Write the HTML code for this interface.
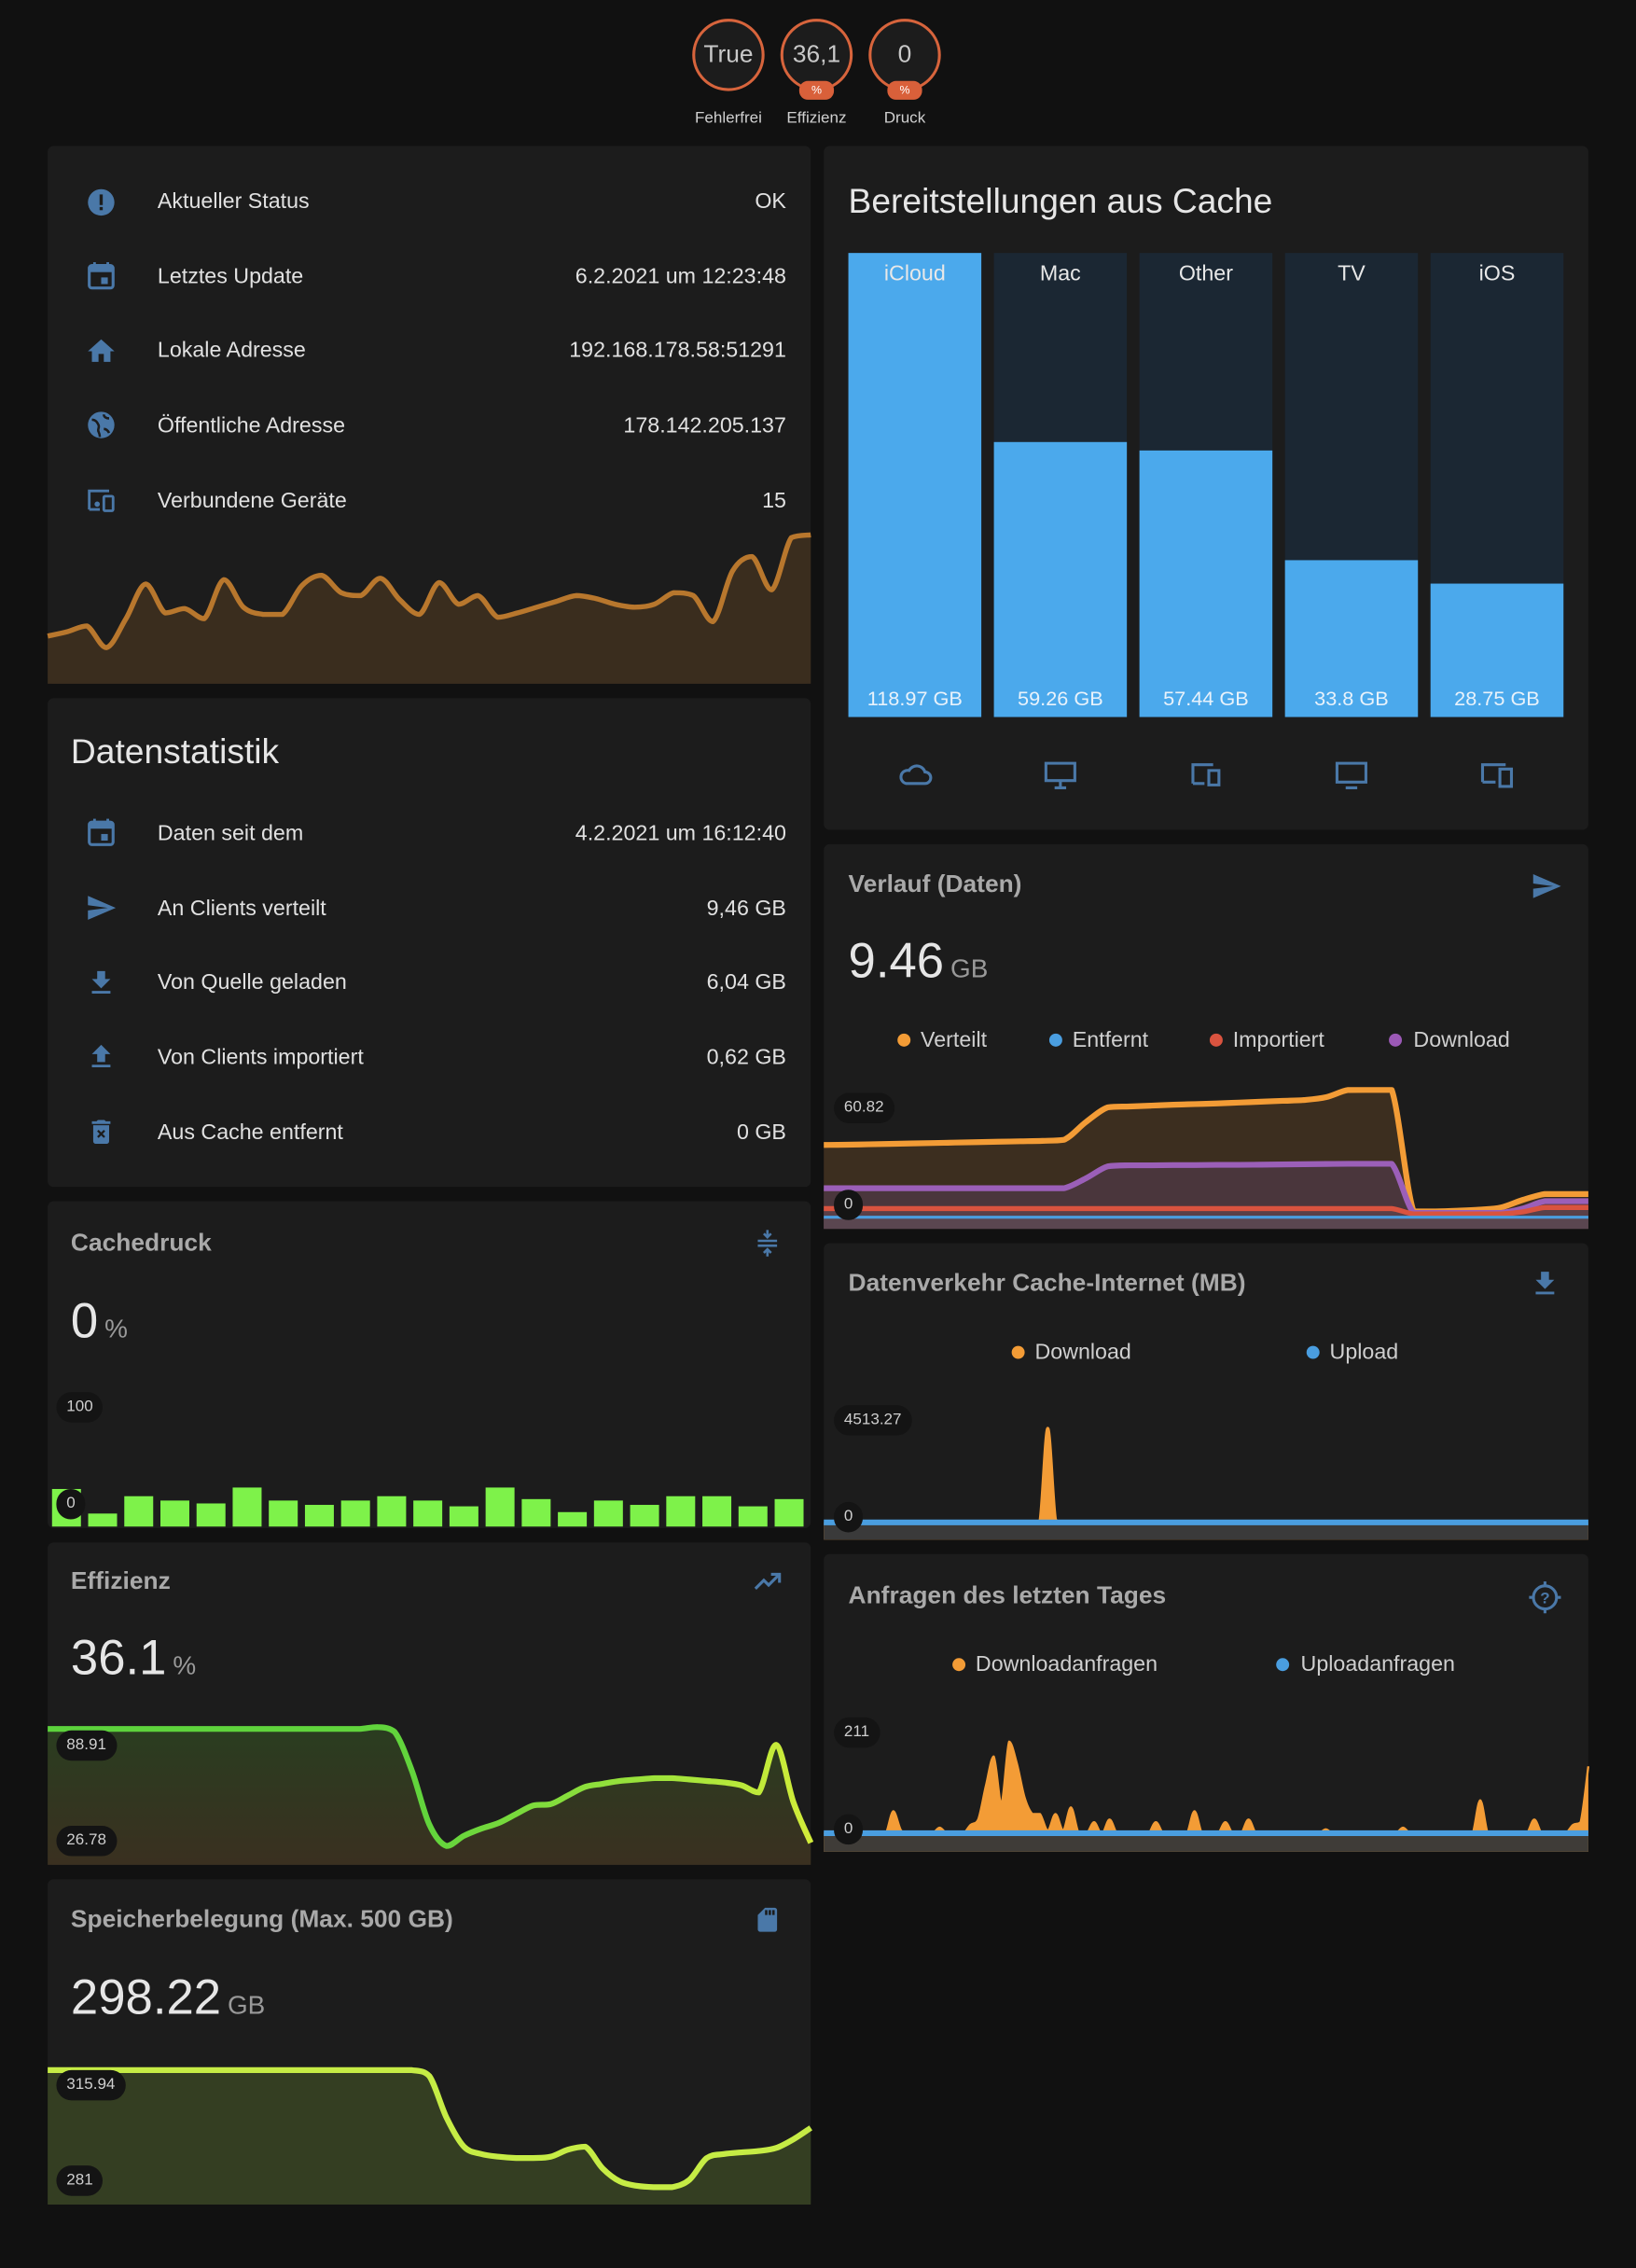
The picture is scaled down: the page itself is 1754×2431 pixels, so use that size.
<!DOCTYPE html>
<html><head><meta charset="utf-8">
<style>
html,body{margin:0;padding:0;background:#111111;width:1754px;height:2430px;overflow:hidden}
#wrap{position:absolute;left:0;top:0;width:1132px;height:1569px;transform:scale(1.5495);transform-origin:0 0;font-family:"Liberation Sans",sans-serif;color:#e1e1e1}
.card{position:absolute;background:#1c1c1c;border-radius:4px;overflow:hidden}
.t{position:absolute;white-space:nowrap;line-height:1}
.row{font-size:15px;color:#e1e1e1}
.val{font-size:15px;color:#e1e1e1;text-align:right}
.title{font-size:17px;color:#a9a9a9;font-weight:bold}
.big{font-size:24px;color:#e6e6e6}
.num{font-size:34px;color:#e6e6e6}
.unit{font-size:18px;color:#999}
.pill{position:absolute;background:#141414;border-radius:11px;font-size:11px;color:#cfcfcf;padding:5px 7px;line-height:1}
.leg{font-size:15px;color:#cfcfcf}
.dot{position:absolute;width:9px;height:9px;border-radius:50%}
.badge{position:absolute;width:46px;height:46px;border:2px solid #d7643c;border-radius:50%;background:#1c1c1c;color:#c8c8c8;font-size:17px;text-align:center;line-height:46px}
.bl{position:absolute;width:24px;height:13px;background:#d9603a;border-radius:6px;color:#fff;font-size:8px;text-align:center;line-height:13px}
.bt{position:absolute;font-size:11px;color:#d0d0d0;text-align:center;width:70px}
svg.ic{position:absolute}
</style></head><body>
<div id="wrap">

<div class="badge" style="left:479px;top:13px">True</div>
<div class="badge" style="left:540px;top:13px">36,1</div>
<div class="bl" style="left:553px;top:56px">%</div>
<div class="badge" style="left:601px;top:13px">0</div>
<div class="bl" style="left:614px;top:56px">%</div>
<div class="bt" style="left:469px;top:76px">Fehlerfrei</div>
<div class="bt" style="left:530px;top:76px">Effizienz</div>
<div class="bt" style="left:591px;top:76px">Druck</div>

<div class="card" style="left:33px;top:101px;width:528px;height:372px"></div>
<div class="card" style="left:33px;top:483px;width:528px;height:338px"></div>
<div class="card" style="left:33px;top:831px;width:528px;height:226px"></div>
<div class="card" style="left:33px;top:1067px;width:528px;height:223px"></div>
<div class="card" style="left:33px;top:1300px;width:528px;height:225px"></div>
<div class="card" style="left:570px;top:101px;width:529px;height:473px"></div>
<div class="card" style="left:570px;top:584px;width:529px;height:266px"></div>
<div class="card" style="left:570px;top:860px;width:529px;height:205px"></div>
<div class="card" style="left:570px;top:1075px;width:529px;height:206px"></div>

<svg id="charts" width="1132" height="1569" style="position:absolute;left:0;top:0">
<defs>
<linearGradient id="effG" x1="33" x2="561" y1="0" y2="0" gradientUnits="userSpaceOnUse"><stop offset="0" stop-color="#5cd23c"/><stop offset="0.5" stop-color="#62d43c"/><stop offset="0.85" stop-color="#a9e63b"/><stop offset="1" stop-color="#d2ec3a"/></linearGradient>
<linearGradient id="effF" x1="0" x2="0" y1="1196" y2="1290" gradientUnits="userSpaceOnUse"><stop offset="0" stop-color="#2a3d20"/><stop offset="1" stop-color="#3a3020"/></linearGradient>
</defs>
</svg>

<svg class="ic" style="left:59px;top:129px" width="22" height="22" viewBox="0 0 24 24"><circle cx="12" cy="12" r="10" fill="#4a78a8"/><rect x="10.8" y="6" width="2.4" height="8" fill="#1c1c1c"/><rect x="10.8" y="15.5" width="2.4" height="2.4" fill="#1c1c1c"/></svg>
<div class="t row" style="left:109px;top:132px">Aktueller Status</div>
<div class="t val" style="right:588px;top:132px">OK</div>
<svg class="ic" style="left:59px;top:180px" width="22" height="22" viewBox="0 0 24 24"><rect x="3" y="4" width="18" height="17" rx="2" fill="none" stroke="#4a78a8" stroke-width="2.2"/><rect x="3" y="4" width="18" height="5" fill="#4a78a8"/><rect x="6" y="1.5" width="2" height="4" fill="#4a78a8"/><rect x="16" y="1.5" width="2" height="4" fill="#4a78a8"/><rect x="12" y="13" width="5" height="5" fill="#4a78a8"/></svg>
<div class="t row" style="left:109px;top:184px">Letztes Update</div>
<div class="t val" style="right:588px;top:184px">6.2.2021 um 12:23:48</div>
<svg class="ic" style="left:59px;top:232px" width="22" height="22" viewBox="0 0 24 24"><path d="M10 20v-6h4v6h5v-8h3L12 3 2 12h3v8z" fill="#4a78a8"/></svg>
<div class="t row" style="left:109px;top:235px">Lokale Adresse</div>
<div class="t val" style="right:588px;top:235px">192.168.178.58:51291</div>
<svg class="ic" style="left:59px;top:283px" width="22" height="22" viewBox="0 0 24 24"><circle cx="12" cy="12" r="10" fill="#4a78a8"/><path d="M5 8c3 0 4 2 5 4s-1 3 0 5 1 3 1 4M14 4c0 2 2 3 4 3M14 15c2 0 3 1 4 3" stroke="#1c1c1c" stroke-width="1.8" fill="none"/></svg>
<div class="t row" style="left:109px;top:287px">Öffentliche Adresse</div>
<div class="t val" style="right:588px;top:287px">178.142.205.137</div>
<svg class="ic" style="left:59px;top:335px" width="22" height="22" viewBox="0 0 24 24"><path d="M3 19V5h15" stroke="#4a78a8" stroke-width="2" fill="none"/><path d="M3 19h8" stroke="#4a78a8" stroke-width="2"/><circle cx="9" cy="15" r="2" fill="#4a78a8"/><rect x="14" y="9" width="7" height="11" rx="1" fill="none" stroke="#4a78a8" stroke-width="2"/></svg>
<div class="t row" style="left:109px;top:339px">Verbundene Geräte</div>
<div class="t val" style="right:588px;top:339px">15</div>

<div class="t big" style="left:49px;top:509px">Datenstatistik</div>
<svg class="ic" style="left:59px;top:565px" width="22" height="22" viewBox="0 0 24 24"><rect x="3" y="4" width="18" height="17" rx="2" fill="none" stroke="#4a78a8" stroke-width="2.2"/><rect x="3" y="4" width="18" height="5" fill="#4a78a8"/><rect x="6" y="1.5" width="2" height="4" fill="#4a78a8"/><rect x="16" y="1.5" width="2" height="4" fill="#4a78a8"/><rect x="12" y="13" width="5" height="5" fill="#4a78a8"/></svg>
<div class="t row" style="left:109px;top:569px">Daten seit dem</div>
<div class="t val" style="right:588px;top:569px">4.2.2021 um 16:12:40</div>
<svg class="ic" style="left:57px;top:617px" width="26" height="22" viewBox="0 0 24 24"><path d="M2 21l21-9L2 3v7l15 2-15 2z" fill="#4a78a8"/></svg>
<div class="t row" style="left:109px;top:621px">An Clients verteilt</div>
<div class="t val" style="right:588px;top:621px">9,46 GB</div>
<svg class="ic" style="left:59px;top:669px" width="22" height="22" viewBox="0 0 24 24"><path d="M19 9h-4V3H9v6H5l7 7zM5 18v2h14v-2z" fill="#4a78a8"/></svg>
<div class="t row" style="left:109px;top:672px">Von Quelle geladen</div>
<div class="t val" style="right:588px;top:672px">6,04 GB</div>
<svg class="ic" style="left:59px;top:720px" width="22" height="22" viewBox="0 0 24 24"><path d="M9 16h6v-6h4l-7-7-7 7h4zM5 18h14v2H5z" fill="#4a78a8"/></svg>
<div class="t row" style="left:109px;top:724px">Von Clients importiert</div>
<div class="t val" style="right:588px;top:724px">0,62 GB</div>
<svg class="ic" style="left:59px;top:772px" width="22" height="22" viewBox="0 0 24 24"><path d="M6 19a2 2 0 002 2h8a2 2 0 002-2V7H6zM19 4h-3.5l-1-1h-5l-1 1H5v2h14z" fill="#4a78a8"/><path d="M9.5 11l5 5M14.5 11l-5 5" stroke="#1c1c1c" stroke-width="1.6"/></svg>
<div class="t row" style="left:109px;top:776px">Aus Cache entfernt</div>
<div class="t val" style="right:588px;top:776px">0 GB</div>

<div class="t title" style="left:49px;top:851px">Cachedruck</div>
<svg class="ic" style="left:521px;top:849px" width="20" height="22" viewBox="0 0 24 24"><path d="M12 1v5M9 4l3 3 3-3M4 10h16M4 14h16M12 23v-5M9 20l3-3 3 3" stroke="#4a78a8" stroke-width="2" fill="none"/></svg>
<div class="t" style="left:49px;top:897px"><span class="num">0</span> <span class="unit">%</span></div>

<div class="t title" style="left:49px;top:1085px">Effizienz</div>
<svg class="ic" style="left:519px;top:1084px" width="24" height="20" viewBox="0 0 24 24"><path d="M2 18l7-7 4 4 8-8M15 6h7v7" stroke="#4a78a8" stroke-width="2.4" fill="none"/></svg>
<div class="t" style="left:49px;top:1130px"><span class="num">36.1</span> <span class="unit">%</span></div>

<div class="t title" style="left:49px;top:1319px">Speicherbelegung (Max. 500 GB)</div>
<svg class="ic" style="left:521px;top:1317px" width="20" height="22" viewBox="0 0 24 24"><path d="M18 2h-8L4 8v12a2 2 0 002 2h12a2 2 0 002-2V4a2 2 0 00-2-2zM12 8h-2V4h2zm3 0h-2V4h2zm3 0h-2V4h2z" fill="#4a78a8"/></svg>
<div class="t" style="left:49px;top:1365px"><span class="num">298.22</span> <span class="unit">GB</span></div>

<div class="t big" style="left:587px;top:128px">Bereitstellungen aus Cache</div>

<div class="t title" style="left:587px;top:603px">Verlauf (Daten)</div>
<svg class="ic" style="left:1057px;top:602px" width="26" height="22" viewBox="0 0 24 24"><path d="M2 21l21-9L2 3v7l15 2-15 2z" fill="#4a78a8"/></svg>
<div class="t" style="left:587px;top:648px"><span class="num">9.46</span> <span class="unit">GB</span></div>
<div class="dot" style="left:621px;top:715px;background:#f39c36"></div><div class="t leg" style="left:637px;top:712px">Verteilt</div>
<div class="dot" style="left:726px;top:715px;background:#4a9ee0"></div><div class="t leg" style="left:742px;top:712px">Entfernt</div>
<div class="dot" style="left:837px;top:715px;background:#d9533f"></div><div class="t leg" style="left:853px;top:712px">Importiert</div>
<div class="dot" style="left:961px;top:715px;background:#9b59b6"></div><div class="t leg" style="left:978px;top:712px">Download</div>

<div class="t title" style="left:587px;top:879px">Datenverkehr Cache-Internet (MB)</div>
<svg class="ic" style="left:1058px;top:877px" width="22" height="22" viewBox="0 0 24 24"><path d="M19 9h-4V3H9v6H5l7 7zM5 18v2h14v-2z" fill="#4a78a8"/></svg>
<div class="dot" style="left:700px;top:931px;background:#f39c36"></div><div class="t leg" style="left:716px;top:928px">Download</div>
<div class="dot" style="left:904px;top:931px;background:#4a9ee0"></div><div class="t leg" style="left:920px;top:928px">Upload</div>

<div class="t title" style="left:587px;top:1095px">Anfragen des letzten Tages</div>
<svg class="ic" style="left:1057px;top:1093px" width="24" height="24" viewBox="0 0 24 24"><circle cx="12" cy="12" r="8" fill="none" stroke="#4a78a8" stroke-width="2"/><path d="M12 1v3M12 20v3M1 12h3M20 12h3" stroke="#4a78a8" stroke-width="2"/><text x="12" y="16" font-size="11" text-anchor="middle" fill="#4a78a8" font-family="Liberation Sans" font-weight="bold">?</text></svg>
<div class="dot" style="left:659px;top:1147px;background:#f39c36"></div><div class="t leg" style="left:675px;top:1144px">Downloadanfragen</div>
<div class="dot" style="left:883px;top:1147px;background:#4a9ee0"></div><div class="t leg" style="left:900px;top:1144px">Uploadanfragen</div>

<div class="pill" style="left:39px;top:963px">100</div>
<div class="pill" style="left:39px;top:1030px">0</div>
<div class="pill" style="left:39px;top:1197px">88.91</div>
<div class="pill" style="left:39px;top:1263px">26.78</div>
<div class="pill" style="left:39px;top:1432px">315.94</div>
<div class="pill" style="left:39px;top:1498px">281</div>
<div class="pill" style="left:577px;top:756px">60.82</div>
<div class="pill" style="left:577px;top:823px">0</div>
<div class="pill" style="left:577px;top:972px">4513.27</div>
<div class="pill" style="left:577px;top:1039px">0</div>
<div class="pill" style="left:577px;top:1188px">211</div>
<div class="pill" style="left:577px;top:1255px">0</div>
</div>

<script>
const statusSpark = [33,36,40,25,45,69,49,52,45,72,53,48,48,68,75,63,61,73,58,48,70,55,61,46,49,53,57,61,59,55,53,55,63,61,43,78,88,65,101,103];
const cachePressure = [26,9,21,18,16,27,18,15,18,21,18,14,27,19,10,18,15,21,21,14,19];
const efficiency = [88.91,88.91,88.91,88.91,88.91,88.91,88.91,88.91,88.91,88.91,88.91,88.91,88.91,88.91,88.91,88.91,88.91,88.91,88.91,89.9,87.4,66.7,38.3,26.8,32.2,36.0,39.0,43.7,48.3,49.0,53.6,58.2,59.8,61.3,62.1,62.8,62.8,62.1,61.3,60.5,59.0,55.2,80.5,50.0,28.5];
const storage = [315.94,315.94,315.94,315.94,315.94,315.94,315.94,315.94,315.94,315.94,315.94,315.94,315.94,315.94,315.94,315.94,315.94,315.94,315.94,315.94,315.94,315.94,314.2,301.7,293.1,290.9,290.1,289.7,289.7,290.1,292.2,293.1,286.6,282.7,281.4,281.0,281.0,283.2,289.7,290.9,291.4,291.8,292.7,295.3,298.7];
const bsCategories = ["iCloud","Mac","Other","TV","iOS"];
const bsValues = [118.97,59.26,57.44,33.8,28.75];
const bsLabels = ["118.97 GB","59.26 GB","57.44 GB","33.8 GB","28.75 GB"];
const verteilt = [35.4,35.5,35.7,35.9,36.1,36.3,36.5,36.7,36.9,37.1,37.3,37.8,46,52.8,53.2,53.6,54,54.3,54.6,55,55.4,55.8,56.2,57.5,60.8,60.82,60.82,4.7,4.7,5,5.5,6.5,10,12.7,12.7,12.7];
const dlVerlauf = [15.4,15.4,15.4,15.4,15.4,15.4,15.4,15.4,15.4,15.4,15.4,15.4,20,25.5,26,26,26.1,26.1,26.2,26.2,26.3,26.4,26.5,26.6,26.7,26.7,26.7,4,4,4,4,4,6,9.4,9.4,9.4];
const importiert = [6,6,6,6,6,6,6,6,6,6,6,6,6,6,6,6,6,6,6,6,6,6,6,6,6,6,6,3.5,3.5,3.5,3.5,3.5,4.5,6.5,6.5,6.5];
const entfernt = [2,2,2,2,2,2,2,2,2,2,2,2,2,2,2,2,2,2,2,2,2,2,2,2,2,2,2,2,2,2,2,2,2,2,2,2];
const trafficDownload = [0,0,0,0,0,0,0,0,0,0,0,0,0,0,0,0,0,0,0,0,0,0,0,0,0,0,0,0,150,4513.27,200,0,0,0,0,0,0,0,0,0,0,0,0,0,0,0,0,0,0,0,0,0,0,0,0,0,0,0,0,0,0,0,0,0,0,0,0,0,0,0,0,0,0,0,0,0,0,0,0,0,0,0,0,0,0,0,0,0,0,0,0,0,0,0,0,0,0,0,0,0];
const trafficUpload = new Array(100).fill(60);
const reqDownload = [5,3,3,3,3,3,3,3,3,45,10,5,3,3,3,15,3,3,3,20,30,92,145,60,172,132,70,40,40,10,40,10,52,5,3,25,3,30,3,3,3,3,3,25,3,3,3,3,45,3,3,3,25,3,3,30,3,3,3,3,3,3,3,3,3,12,3,3,3,3,3,3,3,3,3,15,3,3,3,3,3,3,3,3,3,65,3,3,3,3,3,3,30,3,3,3,3,20,25,127];
const reqUpload = new Array(100).fill(5);

const NS="http://www.w3.org/2000/svg";
const svg=document.getElementById('charts');
function el(tag,attrs){const e=document.createElementNS(NS,tag);for(const k in attrs)e.setAttribute(k,attrs[k]);svg.appendChild(e);return e;}
function clamp(v,a,b){const lo=Math.min(a,b),hi=Math.max(a,b);return Math.max(lo,Math.min(hi,v));}
function smooth(p){let d="M"+p[0][0]+","+p[0][1];for(let i=0;i<p.length-1;i++){const p0=p[i-1]||p[i],p1=p[i],p2=p[i+1],p3=p[i+2]||p2;const c1x=p1[0]+(p2[0]-p0[0])/6,c2x=p2[0]-(p3[0]-p1[0])/6;const c1y=clamp(p1[1]+(p2[1]-p0[1])/6,p1[1],p2[1]),c2y=clamp(p2[1]-(p3[1]-p1[1])/6,p1[1],p2[1]);d+=`C${c1x},${c1y},${c2x},${c2y},${p2[0]},${p2[1]}`;}return d;}
function series(vals,x0,x1,yf){return vals.map((v,i)=>[x0+(x1-x0)*i/(vals.length-1),yf(v)]);}
function drawArea(pts,base,fill,stroke,w,name){
  const d=smooth(pts);
  const a=el('path',{d:d+`L${pts[pts.length-1][0]},${base}L${pts[0][0]},${base}Z`,fill:fill});
  
  
  const l=el('path',{d:d,fill:'none',stroke:stroke,'stroke-width':w,'stroke-linejoin':'round','stroke-linecap':'butt'});
  
  
}

const ySpark=v=>473-v;
drawArea(series(statusSpark,33,561,ySpark),473,'#3a2d1e','#b8772d',3.5,'status-sparkline');

const yCache=v=>1056-v;
cachePressure.forEach((v,i)=>{const x=36+i*25;const r=el('rect',{x:x,y:yCache(v),width:20,height:1056-yCache(v),fill:'#7ef24a'});

});

const yEff=v=>1196+(88.91-v)*81/62.13;
drawArea(series(efficiency,33,561,yEff),1290,'url(#effF)','url(#effG)',4,'effizienz');

const yStor=v=>1432+(315.94-v)*81/34.94;
drawArea(series(storage,33,561,yStor),1525,'#343e22','#c6ec45',4,'speicher');

const yBs=v=>496-Math.min(v/100,1)*321;
bsCategories.forEach((c,i)=>{const x=587+i*100.7,w=92;
 const bg=el('rect',{x:x,y:175,width:w,height:321,fill:'#1b2733'});
 
 
 const b=el('rect',{x:x,y:yBs(bsValues[i]),width:w,height:496-yBs(bsValues[i]),fill:'#4ba9ec'});
 
 
 const t=el('text',{x:x+w/2,y:194,'text-anchor':'middle','font-size':15,fill:'#e8e8e8','font-family':'Liberation Sans'});t.textContent=c;
 
 
 const t2=el('text',{x:x+w/2,y:488,'text-anchor':'middle','font-size':14,fill:'#e8f2fb','font-family':'Liberation Sans'});t2.textContent=bsLabels[i];
 
 
 const g=el('g',{transform:`translate(${x+w/2-12},${524})`,fill:'none',stroke:'#4a78a8','stroke-width':2});
 
 
 const paths=[ 'M6 18h13a4 4 0 000-8 6 6 0 00-11-1 4.5 4.5 0 00-2 9z',
   'M2 4h20v12H2zM12 16v4M8 21h8',
   'M3 18V5h14M3 18h8M14 9h7v10h-7z',
   'M2 4h20v13H2zM8 21h8',
   'M2 17V5h16M2 17h9M14 8h8v12h-8z'];
 const pp=document.createElementNS(NS,'path');pp.setAttribute('d',paths[i]);g.appendChild(pp);
});

const yVer=v=>845-v*91/60.82;
drawArea(series(verteilt,570,1099,yVer),850,'#3c2e1f','#f39c36',4,'verlauf-verteilt');
drawArea(series(dlVerlauf,570,1099,yVer),850,'#4a363c','#9b5fb8',4,'verlauf-download');
drawArea(series(importiert,570,1099,yVer),850,'#5a4048','#d9533f',3.5,'verlauf-importiert');
drawArea(series(entfernt,570,1099,yVer),850,'#5a4650','#4a9ee0',2,'verlauf-entfernt');

const yDv=v=>1054-v*66/4513.27;
drawArea(series(trafficDownload,570,1099,yDv),1065,'#f39c36','#f39c36',2,'traffic-download');
drawArea(series(trafficUpload,570,1099,yDv),1065,'#3a3a3a','#4a9ee0',4,'traffic-upload');

const yReq=v=>1270-v*80/211;
drawArea(series(reqDownload,570,1099,yReq),1281,'#f39c36','#f39c36',1.5,'requests-download');
drawArea(series(reqUpload,570,1099,yReq),1281,'#3f3c38','#4a9ee0',4,'requests-upload');
</script>
</body></html>
